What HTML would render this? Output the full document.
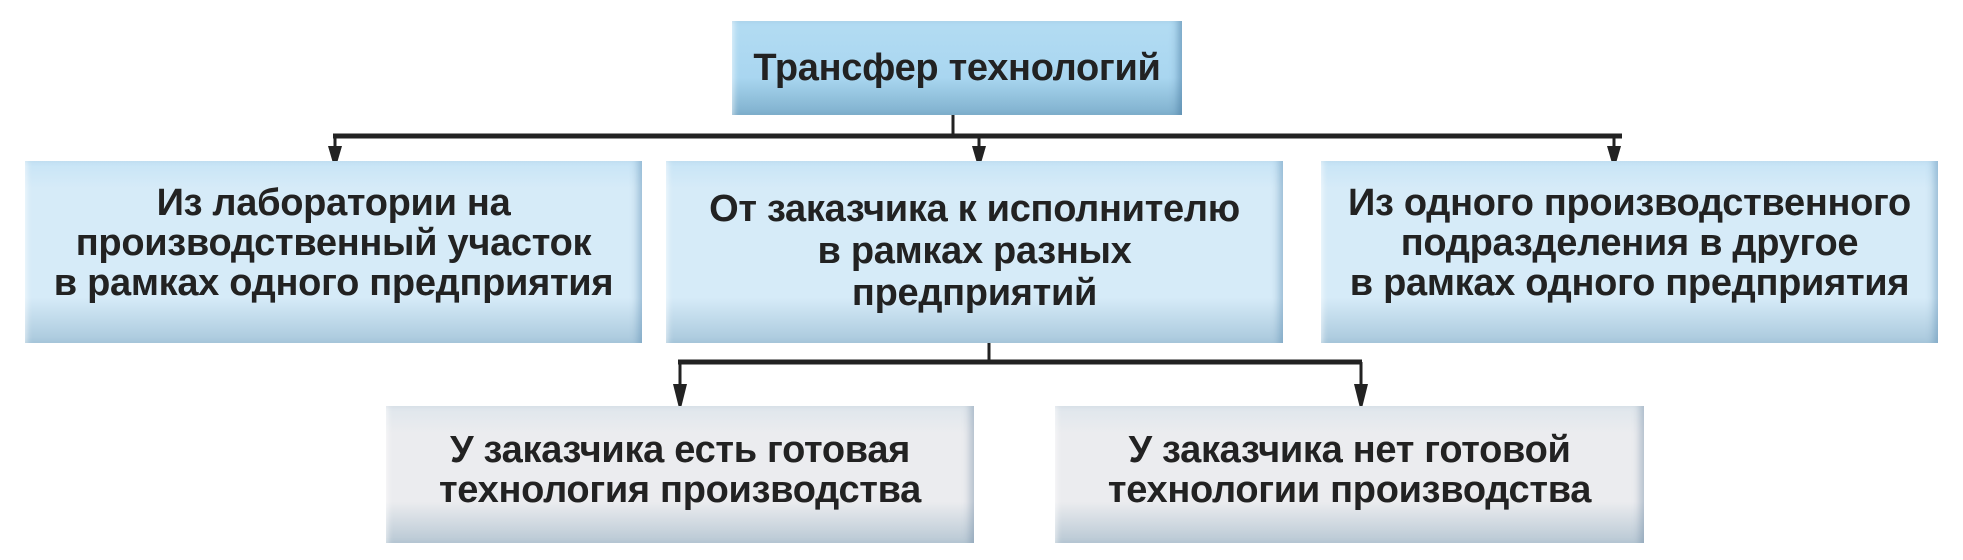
<!DOCTYPE html>
<html><head><meta charset="utf-8"><style>
body{margin:0;width:1963px;height:560px;background:#fff;position:relative;overflow:hidden;font-family:"Liberation Sans","DejaVu Sans",sans-serif;}
.b{position:absolute;display:flex;align-items:center;justify-content:center;text-align:center;font-weight:bold;color:#222;font-size:38px;line-height:40px;box-sizing:border-box;letter-spacing:-0.3px;white-space:nowrap;}
.top{background:linear-gradient(#b3dcf3 0%,#a9d6f0 60%,#7fb0cd 100%);box-shadow:inset -8px 0 8px -4px rgba(60,110,150,.5),inset 6px 0 6px -4px rgba(255,255,255,.6);}
.mid{background:linear-gradient(#c7e4f6 0%,#d6ebf8 15%,#d6ebf8 75%,#a9c8dc 100%);box-shadow:inset -8px 0 8px -4px rgba(80,130,170,.45),inset 6px 0 6px -4px rgba(255,255,255,.6);}
.bot{background:linear-gradient(#dfe6ec 0%,#ebecef 20%,#ebecef 70%,#b8c8d4 100%);box-shadow:inset -8px 0 8px -4px rgba(90,120,150,.4),inset 6px 0 6px -4px rgba(255,255,255,.6);}
svg{position:absolute;left:0;top:0}
</style></head><body>
<svg width="1963" height="560">
<g stroke="#222" stroke-width="3" fill="none">
<line x1="953" y1="115" x2="953" y2="136"/>
<line x1="333" y1="136" x2="1622" y2="136" stroke-width="5"/>
<line x1="335" y1="136" x2="335" y2="150"/>
<line x1="979" y1="136" x2="979" y2="150"/>
<line x1="1614" y1="136" x2="1614" y2="150"/>
<line x1="989" y1="343" x2="989" y2="362"/>
<line x1="678" y1="362" x2="1362" y2="362" stroke-width="5"/>
<line x1="680" y1="362" x2="680" y2="388"/>
<line x1="1361" y1="362" x2="1361" y2="388"/>
</g>
<g fill="#222">
<polygon points="328,146 342,146 335,170"/>
<polygon points="972,146 986,146 979,170"/>
<polygon points="1607,146 1621,146 1614,170"/>
<polygon points="673,384 687,384 680,412"/>
<polygon points="1354,384 1368,384 1361,412"/>
</g>
</svg>
<div class="b top" style="left:732px;top:21px;width:450px;height:94px;">Трансфер технологий</div>
<div class="b mid" style="left:25px;top:161px;width:617px;height:182px;padding-bottom:18px;">Из лаборатории на<br>производственный участок<br>в рамках одного предприятия</div>
<div class="b mid" style="left:666px;top:161px;width:617px;height:182px;padding-bottom:2px;line-height:42px;">От заказчика к исполнителю<br>в рамках разных<br>предприятий</div>
<div class="b mid" style="left:1321px;top:161px;width:617px;height:182px;padding-bottom:18px;">Из одного производственного<br>подразделения в другое<br>в рамках одного предприятия</div>
<div class="b bot" style="left:386px;top:406px;width:588px;height:137px;padding-bottom:10px;">У заказчика есть готовая<br>технология производства</div>
<div class="b bot" style="left:1055px;top:406px;width:589px;height:137px;padding-bottom:10px;">У заказчика нет готовой<br>технологии производства</div>
</body></html>
